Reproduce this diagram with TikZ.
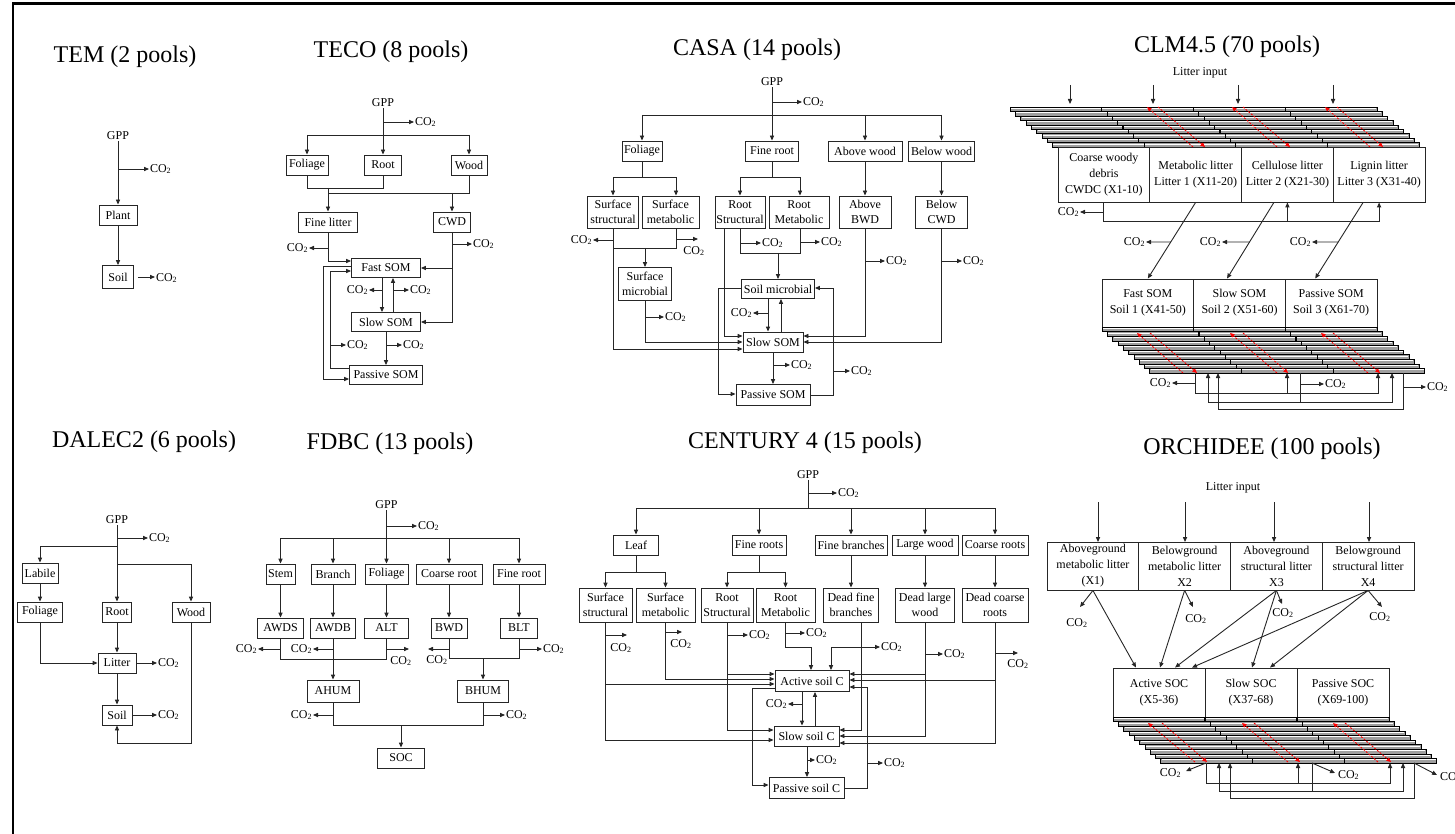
\documentclass[tikz,border=0pt]{standalone}
\usepackage{fontspec}
\setmainfont{Liberation Serif}
\usetikzlibrary{arrows.meta,calc}
\newcommand\bxf{\fontsize{12}{15}\selectfont}
\newcommand\bxl{\fontsize{12}{16}\selectfont}
\newcommand\ttlf{\fontsize{24}{26}\selectfont}
\newcommand\COtwo{CO\textsubscript{2}}
\begin{document}
\begin{tikzpicture}[x=1pt,y=-1pt,
  ln/.style={line width=0.9pt, draw=black!85},
  arr/.style={ln, -{Triangle[length=5pt,width=4.2pt]}},
  box/.style={draw=black!85, line width=0.9pt, fill=white, inner sep=1pt, align=center, font=\bxf},
  bigbox/.style={box, font=\bxl},
  lbl/.style={inner sep=0.8pt, font=\bxf},
  ttl/.style={inner sep=0pt, font=\ttlf},
  stk/.style={fill=gray!75, draw=black, line width=0.5pt},
  wln/.style={draw=white, line width=0.6pt},
  tck/.style={draw=black, line width=1.1pt},
  rda/.style={draw=red, line width=0.9pt, dash pattern=on 2pt off 1.5pt, -{Triangle[length=4.5pt,width=4pt]}},
]
\useasboundingbox (0,0) rectangle (1455,834);
\draw[line width=2.4pt] (13,840) -- (13,3.5) -- (1460,3.5);

% ================= TEM =================
\node[ttl] (tem-t) at (125,57) {TEM (2 pools)};
\node[lbl] (tem-gpp) at (118,136) {GPP};
\node[box,minimum width=38,minimum height=20] (tem-pl) at (118,215) {Plant};
\node[box,minimum width=31,minimum height=23] (tem-so) at (118,277) {Soil};
\node[lbl,anchor=west] (tem-c1) at (149,169) {\COtwo};
\node[lbl,anchor=west] (tem-c2) at (155,278) {\COtwo};
\draw[arr] (tem-gpp) -- (tem-pl);
\draw[arr] (tem-gpp.south |- tem-c1.west) -- (tem-c1.west);
\draw[arr] (tem-pl) -- (tem-so);
\draw[arr] ([xshift=4pt]tem-so.east) -- (tem-c2.west |- tem-so.east);

% ================= TECO =================
\node[ttl] (teco-t) at (391,52) {TECO (8 pools)};
\node[lbl] (teco-gpp) at (383,103) {GPP};
\node[lbl,anchor=west] (teco-c0) at (414,122) {\COtwo};
\node[box,minimum width=42,minimum height=20] (teco-fo) at (307,165) {Foliage};
\node[box,minimum width=37,minimum height=20] (teco-ro) at (383,165) {Root};
\node[box,minimum width=36,minimum height=20] (teco-wo) at (469,165) {Wood};
\node[box,minimum width=59,minimum height=20] (teco-fl) at (328,222) {Fine litter};
\node[box,minimum width=37,minimum height=20] (teco-cw) at (452,222) {CWD};
\node[box,minimum width=69,minimum height=19] (teco-fs) at (386,268) {Fast SOM};
\node[box,minimum width=69,minimum height=19] (teco-ss) at (386,322) {Slow SOM};
\node[box,minimum width=73,minimum height=19] (teco-ps) at (386,375) {Passive SOM};
\node[lbl,anchor=east] (teco-c1) at (309,248) {\COtwo};
\node[lbl,anchor=west] (teco-c2) at (472,244) {\COtwo};
\node[lbl,anchor=east] (teco-c3) at (369,290) {\COtwo};
\node[lbl,anchor=west] (teco-c4) at (409,290) {\COtwo};
\node[lbl,anchor=west] (teco-c5) at (402,345) {\COtwo};
\node[lbl,anchor=west] (teco-c6) at (346,345) {\COtwo};
\draw[arr] (teco-gpp) -- (teco-ro);
\draw[arr] (teco-gpp.south |- teco-c0.west) -- (teco-c0.west);
\draw[ln] (teco-fo.north |- 0,135) -- (teco-wo.north |- 0,135);
\draw[arr] (teco-fo.north |- 0,135) -- (teco-fo.north);
\draw[arr] (teco-wo.north |- 0,135) -- (teco-wo.north);
\draw[ln] (teco-fo.south) |- (teco-ro.south |- 0,188) -- (teco-ro.south);
\draw[ln] (teco-wo.south) |- (teco-fl.north |- 0,193);
\draw[arr] (teco-fl.north |- 0,188) -- (teco-fl.north);
\draw[arr] (teco-cw.north |- 0,193) -- (teco-cw.north);
\draw[arr] (teco-fl.south) |- (teco-fs.west |- 0,261);
\draw[arr] (teco-fl.south |- teco-c1.east) -- (teco-c1.east);
\draw[arr] (teco-cw.south) |- (teco-ss.east);
\draw[arr] (teco-cw.south |- teco-fs.east) -- (teco-fs.east);
\draw[arr] (teco-cw.south |- teco-c2.west) -- (teco-c2.west);
\draw[arr] (382,0 |- teco-fs.south) -- (382,0 |- teco-ss.north);
\draw[arr] (382,0 |- teco-c3.east) -- (teco-c3.east);
\draw[arr] (393,0 |- teco-ss.north) -- (393,0 |- teco-fs.south);
\draw[arr] (393,0 |- teco-c4.west) -- (teco-c4.west);
\draw[arr] (teco-ss) -- (teco-ps);
\draw[arr] (386,0 |- teco-c5.west) -- (teco-c5.west);
\draw[arr] (teco-ps.west |- 0,368) -| (330,271) -- (teco-fs.west |- 0,271);
\draw[arr] (330,0 |- teco-c6.west) -- (teco-c6.west);
\draw[arr] (teco-fs.west |- 0,266) -| (323,379) -- (teco-ps.west |- 0,379);

% ================= CASA =================
\node[ttl] (casa-t) at (757,50) {CASA (14 pools)};
\node[lbl] (casa-gpp) at (772,82) {GPP};
\node[lbl,anchor=west] (casa-c0) at (802,102) {\COtwo};
\node[box,minimum width=40,minimum height=20] (casa-fo) at (642,151) {Foliage};
\node[box,minimum width=53,minimum height=20] (casa-fr) at (772,151) {Fine root};
\node[box,minimum width=74,minimum height=20] (casa-aw) at (865,151) {Above wood};
\node[box,minimum width=66,minimum height=20] (casa-bw) at (941.5,151) {Below wood};
\node[box,minimum width=51,minimum height=32] (casa-sst) at (613,212) {Surface\\structural};
\node[box,minimum width=57,minimum height=32] (casa-smt) at (670.5,212) {Surface\\metabolic};
\node[box,minimum width=50,minimum height=32] (casa-rst) at (740,212) {Root\\Structural};
\node[box,minimum width=60,minimum height=32] (casa-rmt) at (799,212) {Root\\Metabolic};
\node[box,minimum width=52,minimum height=32] (casa-abw) at (865,212) {Above\\BWD};
\node[box,minimum width=52,minimum height=32] (casa-bcw) at (941.5,212) {Below\\CWD};
\node[box,minimum width=53,minimum height=33] (casa-smi) at (645,284) {Surface\\microbial};
\node[box,minimum width=73,minimum height=19] (casa-sm) at (778,289) {Soil microbial};
\node[box,minimum width=60,minimum height=20] (casa-sl) at (773,342) {Slow SOM};
\node[box,minimum width=74,minimum height=21] (casa-ps) at (773,395) {Passive SOM};
\draw[arr] (casa-gpp) -- (casa-fr);
\draw[arr] (casa-gpp.south |- casa-c0.west) -- (casa-c0.west);
\draw[ln] (casa-fo.north |- 0,115) -- (casa-bw.north |- 0,115);
\foreach \n in {fo,aw,bw} \draw[arr] (casa-\n.north |- 0,115) -- (casa-\n.north);
\draw[arr] (casa-fo.south) |- (casa-sst.north |- 0,177) -- (casa-sst.north);
\draw[arr] (casa-fo.south) |- (676,177) -- (676,0 |- casa-smt.north);
\draw[arr] (casa-fr.south) |- (casa-rst.north |- 0,177) -- (casa-rst.north);
\draw[arr] (casa-fr.south) |- (800,177) -- (800,0 |- casa-rmt.north);
\draw[arr] (casa-aw) -- (casa-abw);
\draw[arr] (casa-bw) -- (casa-bcw);
\node[lbl,anchor=east] (casa-c1) at (593,240) {\COtwo};
\draw[arr] (casa-sst.south |- casa-c1.east) -- (casa-c1.east);
\draw[arr] (casa-sst.south) |- (casa-sl.west |- 0,349);
\coordinate (casa-c2a) at (698,239);
\node[lbl] (casa-c2) at (694,251) {\COtwo};
\draw[arr] (676,0 |- casa-smt.south) |- (casa-c2a);
\draw[ln] (casa-sst.south) |- (676,248) -- (676,0 |- casa-smt.south);
\draw[arr] (casa-smi.north |- 0,248) -- (casa-smi.north);
\draw[arr] (casa-smi.south) |- (casa-sl.west |- 0,342);
\node[lbl,anchor=west] (casa-c3) at (664,317) {\COtwo};
\draw[arr] (casa-smi.south |- casa-c3.west) -- (casa-c3.west);
\draw[arr] (724,0 |- casa-rst.south) |- (casa-sl.west |- 0,336);
\node[lbl,anchor=west] (casa-c4) at (761,243) {\COtwo};
\draw[arr] (casa-rst.south |- casa-c4.west) -- (casa-c4.west);
\draw[ln] (casa-rst.south) |- (800,253) -- (800,0 |- casa-rmt.south);
\node[lbl,anchor=west] (casa-c5) at (820,242) {\COtwo};
\draw[arr] (800,0 |- casa-c5.west) -- (casa-c5.west);
\draw[arr] (casa-sm.north |- 0,253) -- (casa-sm.north);
\draw[arr] (768,0 |- casa-sm.south) -- (768,0 |- casa-sl.north);
\node[lbl,anchor=east] (casa-c6) at (753,313) {\COtwo};
\draw[arr] (768,0 |- casa-c6.east) -- (casa-c6.east);
\draw[arr] (781,0 |- casa-sl.north) -- (781,0 |- casa-sm.south);
\draw[arr] (casa-sl) -- (casa-ps);
\node[lbl,anchor=west] (casa-c7) at (790,365) {\COtwo};
\draw[arr] (casa-sl.south |- casa-c7.west) -- (casa-c7.west);
\draw[arr] (casa-ps.east) -| (833,288) -- (casa-sm.east |- 0,288);
\node[lbl,anchor=west] (casa-c8) at (850,371) {\COtwo};
\draw[arr] (833,0 |- casa-c8.west) -- (casa-c8.west);
\draw[arr] (casa-sm.west |- 0,288) -| (718,394) -- (casa-ps.west |- 0,394);
\draw[arr] (casa-abw.south) |- (casa-sl.east |- 0,336);
\node[lbl,anchor=west] (casa-c9) at (885,261) {\COtwo};
\draw[arr] (casa-abw.south |- casa-c9.west) -- (casa-c9.west);
\draw[arr] (casa-bcw.south) |- (casa-sl.east |- 0,342);
\node[lbl,anchor=west] (casa-c10) at (962,261) {\COtwo};
\draw[arr] (casa-bcw.south |- casa-c10.west) -- (casa-c10.west);

% ================= CLM4.5 =================
\node[ttl] (clm-t) at (1227,47) {CLM4.5 (70 pools)};
\node[lbl,font=\bxl] (clm-in) at (1200,73) {Litter input};
\foreach \xx/\i in {1070/1,1153/2,1238/3,1333/4}{
  \coordinate (clm-a\i) at (\xx,85);
  \coordinate (clm-b\i) at (\xx,104);
  \draw[arr] (clm-a\i) -- (clm-b\i);
}
\foreach \k in {0,...,8}{
  \draw[stk] (1010+5.3*\k,107+4.45*\k) rectangle ++(367,4.45);
  \draw[wln] (1011+5.3*\k,108.3+4.45*\k) -- ++(365,0);
  \foreach \j in {1,2,3} \draw[tck] (1010+5.3*\k+91.75*\j,107+4.45*\k) -- ++(0,4.45);
}
\draw[rda] (1193,147) -- (1147,107);
\draw[rda] (1158,107) -- (1205,147);
\draw[rda] (1277,147) -- (1232,107);
\draw[rda] (1243,107) -- (1290,147);
\draw[rda] (1370,147) -- (1325,107);
\draw[rda] (1337,107) -- (1383,147);
\node[bigbox,minimum width=91.75,minimum height=55] (clm-l0) at (1103.9,174.5) {Coarse woody\\debris\\CWDC (X1-10)};
\node[bigbox,minimum width=91.75,minimum height=55] (clm-l1) at (1195.6,174.5) {Metabolic litter\\Litter 1 (X11-20)};
\node[bigbox,minimum width=91.75,minimum height=55] (clm-l2) at (1287.4,174.5) {Cellulose litter\\Litter 2 (X21-30)};
\node[bigbox,minimum width=91.75,minimum height=55] (clm-l3) at (1379.1,174.5) {Lignin litter\\Litter 3 (X31-40)};
\node[lbl,anchor=east] (clm-c0) at (1080,212) {\COtwo};
\draw[arr] (clm-l0.south |- clm-c0.east) -- (clm-c0.east);
\draw[arr] (clm-l0.south) |- (clm-l2.south |- 0,221) -- (clm-l2.south);
\draw[arr] (clm-l0.south) |- (clm-l3.south |- 0,221) -- (clm-l3.south);
\node[bigbox,minimum width=91.7,minimum height=48] (clm-s1) at (1147.8,303) {Fast SOM\\Soil 1 (X41-50)};
\node[bigbox,minimum width=91.7,minimum height=48] (clm-s2) at (1239.5,303) {Slow SOM\\Soil 2 (X51-60)};
\node[bigbox,minimum width=91.7,minimum height=48] (clm-s3) at (1331.2,303) {Passive SOM\\Soil 3 (X61-70)};
\draw[arr] (clm-l1.south) -- (clm-s1.north);
\draw[arr] ([xshift=-13.5pt]clm-l2.south) -- ([xshift=-12.5pt]clm-s2.north);
\draw[arr] ([xshift=-16pt]clm-l3.south) -- ([xshift=-16pt]clm-s3.north);
\path (clm-l1.south) -- (clm-s1.north) coordinate[pos=0.52] (clm-d1);
\path ([xshift=-13.5pt]clm-l2.south) -- ([xshift=-12.5pt]clm-s2.north) coordinate[pos=0.52] (clm-d2);
\path ([xshift=-16pt]clm-l3.south) -- ([xshift=-16pt]clm-s3.north) coordinate[pos=0.52] (clm-d3);
\node[lbl,anchor=east] (clm-c1) at (1146,242) {\COtwo};
\node[lbl,anchor=east] (clm-c2) at (1222,242) {\COtwo};
\node[lbl,anchor=east] (clm-c3) at (1312,242) {\COtwo};
\draw[arr] (clm-d1) -- (clm-c1.east);
\draw[arr] (clm-d2) -- (clm-c2.east);
\draw[arr] (clm-d3) -- (clm-c3.east);
\foreach \k in {0,...,9}{
  \draw[stk] (1102+5.3*\k,327+4.6*\k) rectangle ++(275,4.6);
  \draw[wln] (1103+5.3*\k,328.3+4.6*\k) -- ++(273,0);
  \foreach \j in {1,2} \draw[tck] (1102+5.3*\k+91.7*\j,327+4.6*\k) -- ++(0,4.6);
}
\draw[rda] (1183,373) -- (1137,333);
\draw[rda] (1150,333) -- (1197,373);
\draw[rda] (1277,373) -- (1230,333);
\draw[rda] (1243,333) -- (1288,373);
\draw[rda] (1368,373) -- (1321,333);
\draw[rda] (1333,333) -- (1380,373);
\coordinate (clm-sb) at (0,373);
\node[lbl,anchor=east] (clm-c4) at (1172,383) {\COtwo};
\draw[arr] (1195,0 |- clm-sb) |- (1287,393) -- (1287,0 |- clm-sb);
\draw[arr] (1195,0 |- clm-sb) |- (1378,393) -- (1378,0 |- clm-sb);
\draw[arr] (1195,0 |- clm-c4.east) -- (clm-c4.east);
\draw[arr] (1300,0 |- clm-sb) |- (1208,402) -- (1208,0 |- clm-sb);
\draw[arr] (1300,0 |- clm-sb) |- (1392,402) -- (1392,0 |- clm-sb);
\node[lbl,anchor=west] (clm-c5) at (1324,384) {\COtwo};
\draw[arr] (1300,0 |- clm-c5.west) -- (clm-c5.west);
\draw[arr] (1403,0 |- clm-sb) |- (1218,409) -- (1218,0 |- clm-sb);
\node[lbl,anchor=west] (clm-c6) at (1426,387) {\COtwo};
\draw[arr] (1403,0 |- clm-c6.west) -- (clm-c6.west);

% ================= DALEC2 =================
\node[ttl] (dal-t) at (144,442) {DALEC2 (6 pools)};
\node[lbl] (dal-gpp) at (117,520) {GPP};
\node[lbl,anchor=west] (dal-c0) at (148,538) {\COtwo};
\node[box,minimum width=36,minimum height=20] (dal-lab) at (40,573) {Labile};
\node[box,minimum width=45,minimum height=20] (dal-fol) at (40,612) {Foliage};
\node[box,minimum width=29,minimum height=20] (dal-root) at (117,612) {Root};
\node[box,minimum width=38,minimum height=20] (dal-wood) at (191,612) {Wood};
\node[box,minimum width=38,minimum height=20] (dal-lit) at (117,663) {Litter};
\node[box,minimum width=30,minimum height=20] (dal-soil) at (117,715) {Soil};
\node[lbl,anchor=west] (dal-c1) at (157,663) {\COtwo};
\node[lbl,anchor=west] (dal-c2) at (157,715) {\COtwo};
\draw[arr] (dal-gpp) -- (dal-root);
\draw[arr] (dal-gpp.south |- dal-c0.west) -- (dal-c0.west);
\draw[arr] (dal-gpp.south |- 0,546) -| (dal-lab.north);
\draw[arr] (dal-gpp.south |- 0,564) -| (dal-wood.north);
\draw[arr] (dal-lab) -- (dal-fol);
\draw[arr] (dal-fol.south) |- (dal-lit.west);
\draw[arr] (dal-root) -- (dal-lit);
\draw[arr] (dal-lit) -- (dal-soil);
\draw[arr] (dal-lit.east) -- (dal-c1.west);
\draw[arr] (dal-soil.east) -- (dal-c2.west);
\draw[arr] (dal-wood.south) |- (dal-soil.south |- 0,743) -- (dal-soil.south);

% ================= FDBC =================
\node[ttl] (fd-t) at (390,444) {FDBC (13 pools)};
\node[lbl] (fd-gpp) at (386.5,505) {GPP};
\node[lbl,anchor=west] (fd-c0) at (417,526) {\COtwo};
\node[box,minimum width=29,minimum height=20] (fd-stem) at (280.5,574) {Stem};
\node[box,minimum width=44,minimum height=20] (fd-br) at (333,574) {Branch};
\node[box,minimum width=43,minimum height=20] (fd-fo) at (386.5,574) {Foliage};
\node[box,minimum width=66,minimum height=20] (fd-cr) at (449,574) {Coarse root};
\node[box,minimum width=52,minimum height=20] (fd-fr) at (519,574) {Fine root};
\node[box,minimum width=46,minimum height=20] (fd-awds) at (280.5,628) {AWDS};
\node[box,minimum width=45,minimum height=20] (fd-awdb) at (333,628) {AWDB};
\node[box,minimum width=44,minimum height=20] (fd-alt) at (386.5,628) {ALT};
\node[box,minimum width=36,minimum height=20] (fd-bwd) at (449,628) {BWD};
\node[box,minimum width=37,minimum height=20] (fd-blt) at (519,628) {BLT};
\node[box,minimum width=52,minimum height=22] (fd-ahum) at (333,691) {AHUM};
\node[box,minimum width=51,minimum height=22] (fd-bhum) at (483,691) {BHUM};
\node[box,minimum width=47,minimum height=20] (fd-soc) at (401,758) {SOC};
\draw[arr] (fd-gpp) -- (fd-fo);
\draw[arr] (fd-gpp.south |- fd-c0.west) -- (fd-c0.west);
\draw[ln] (fd-stem.north |- 0,538) -- (fd-fr.north |- 0,538);
\foreach \n in {stem,br,cr,fr} \draw[arr] (fd-\n.north |- 0,538) -- (fd-\n.north);
\draw[arr] (fd-stem) -- (fd-awds);
\draw[arr] (fd-br) -- (fd-awdb);
\draw[arr] (fd-fo) -- (fd-alt);
\draw[arr] (fd-cr) -- (fd-bwd);
\draw[arr] (fd-fr) -- (fd-blt);
\draw[ln] (fd-awds.south) |- (fd-alt.south |- 0,659) -- (fd-alt.south);
\node[lbl,anchor=east] (fd-c1) at (258,649) {\COtwo};
\draw[arr] (fd-awds.south |- fd-c1.east) -- (fd-c1.east);
\node[lbl,anchor=east] (fd-c2) at (313,649) {\COtwo};
\draw[arr] (fd-awdb.south |- fd-c2.east) -- (fd-c2.east);
\coordinate (fd-e3) at (409,649);
\node[lbl] (fd-c3) at (401,661) {\COtwo};
\draw[arr] (fd-alt.south |- fd-e3) -- (fd-e3);
\draw[arr] (fd-awdb) -- (fd-ahum);
\draw[ln] (fd-bwd.south) |- (fd-blt.south |- 0,658) -- (fd-blt.south);
\coordinate (fd-e4) at (428,649);
\node[lbl] (fd-c4) at (437,660) {\COtwo};
\draw[arr] (fd-bwd.south |- fd-e4) -- (fd-e4);
\node[lbl,anchor=west] (fd-c5) at (542,649) {\COtwo};
\draw[arr] (fd-blt.south |- fd-c5.west) -- (fd-c5.west);
\draw[arr] (fd-bhum.north |- 0,658) -- (fd-bhum.north);
\draw[ln] (fd-ahum.south) |- (fd-bhum.south |- 0,725) -- (fd-bhum.south);
\draw[arr] (fd-soc.north |- 0,725) -- (fd-soc.north);
\node[lbl,anchor=east] (fd-c6) at (313,715) {\COtwo};
\draw[arr] (fd-ahum.south |- fd-c6.east) -- (fd-c6.east);
\node[lbl,anchor=west] (fd-c7) at (505,715) {\COtwo};
\draw[arr] (fd-bhum.south |- fd-c7.west) -- (fd-c7.west);

% ================= CENTURY 4 =================
\node[ttl] (cen-t) at (805,443) {CENTURY 4 (15 pools)};
\node[lbl] (cen-gpp) at (808,475) {GPP};
\node[lbl,anchor=west] (cen-c0) at (837,493) {\COtwo};
\node[box,minimum width=45,minimum height=20] (cen-le) at (636,545) {Leaf};
\node[box,minimum width=54,minimum height=20] (cen-fr) at (759,545) {Fine roots};
\node[box,minimum width=72,minimum height=20] (cen-fb) at (851,545) {Fine branches};
\node[box,minimum width=66,minimum height=20] (cen-lw) at (925,545) {Large wood};
\node[box,minimum width=66,minimum height=20] (cen-cr) at (995,545) {Coarse roots};
\node[box,minimum width=53,minimum height=34] (cen-sst) at (605.5,605) {Surface\\structural};
\node[box,minimum width=59,minimum height=34] (cen-smt) at (665.5,605) {Surface\\metabolic};
\node[box,minimum width=52,minimum height=34] (cen-rst) at (727,605) {Root\\Structural};
\node[box,minimum width=59,minimum height=34] (cen-rmt) at (785.5,605) {Root\\Metabolic};
\node[box,minimum width=55,minimum height=34] (cen-dfb) at (851,605) {Dead fine\\branches};
\node[box,minimum width=59,minimum height=34] (cen-dlw) at (925,605) {Dead large\\wood};
\node[box,minimum width=66,minimum height=34] (cen-dcr) at (995,605) {Dead coarse\\roots};
\node[box,minimum width=74,minimum height=21] (cen-ac) at (812,681) {Active soil C};
\node[box,minimum width=65,minimum height=20] (cen-sc) at (806.5,736) {Slow soil C};
\node[box,minimum width=75,minimum height=21] (cen-pc) at (806.5,788) {Passive soil C};
\draw[ln] (cen-gpp.south) -- (cen-gpp.south |- 0,508);
\draw[ln] (cen-le.north |- 0,508) -- (cen-cr.north |- 0,508);
\foreach \n in {le,fr,fb,lw,cr} \draw[arr] (cen-\n.north |- 0,508) -- (cen-\n.north);
\draw[arr] (cen-gpp.south |- cen-c0.west) -- (cen-c0.west);
\draw[arr] (cen-le.south) |- (cen-sst.north |- 0,572) -- (cen-sst.north);
\draw[arr] (cen-le.south) |- (cen-smt.north |- 0,572) -- (cen-smt.north);
\draw[arr] (cen-fr.south) |- (cen-rst.north |- 0,572) -- (cen-rst.north);
\draw[arr] (cen-fr.south) |- (cen-rmt.north |- 0,572) -- (cen-rmt.north);
\draw[arr] (cen-fb) -- (cen-dfb);
\draw[arr] (cen-lw) -- (cen-dlw);
\draw[arr] (cen-cr) -- (cen-dcr);
\coordinate (cen-e1) at (627,635);
\node[lbl] (cen-c1) at (621,648) {\COtwo};
\draw[arr] (cen-sst.south) |- (cen-e1);
\draw[arr] (cen-sst.south) |- (cen-ac.west |- 0,684);
\draw[arr] (cen-sst.south) |- (cen-sc.west |- 0,740);
\coordinate (cen-e2) at (682,632);
\node[lbl] (cen-c2) at (681,644) {\COtwo};
\draw[arr] (cen-smt.south) |- (cen-e2);
\draw[arr] (cen-smt.south) |- (cen-ac.west |- 0,679);
\node[lbl,anchor=west] (cen-c3) at (748,635) {\COtwo};
\draw[arr] (cen-rst.south) |- (cen-c3.west);
\draw[arr] (cen-rst.south) |- (cen-ac.west |- 0,674);
\draw[arr] (cen-rst.south) |- (cen-sc.west |- 0,730);
\node[lbl,anchor=west] (cen-c4) at (805,633) {\COtwo};
\draw[arr] (cen-rmt.south) |- (cen-c4.west);
\draw[arr] (cen-rmt.south) |- (811,647) -- (811,0 |- cen-ac.north);
\draw[arr] (861,0 |- cen-dfb.south) |- (cen-sc.east |- 0,730);
\node[lbl,anchor=west] (cen-c5) at (880,647) {\COtwo};
\draw[arr] (861,0 |- cen-c5.west) -- (cen-c5.west);
\draw[arr] (861,0 |- cen-c5.west) -| (831,0 |- cen-ac.north);
\draw[arr] (cen-dlw.south) |- (cen-sc.east |- 0,736);
\draw[arr] (cen-dlw.south) |- (cen-ac.east |- 0,674);
\node[lbl,anchor=west] (cen-c6) at (943,654) {\COtwo};
\draw[arr] (cen-dlw.south |- cen-c6.west) -- (cen-c6.west);
\draw[arr] (cen-dcr.south) |- (cen-sc.east |- 0,743);
\draw[arr] (cen-dcr.south) |- (cen-ac.east |- 0,680);
\coordinate (cen-e7) at (1018,653);
\node[lbl] (cen-c7) at (1018,664) {\COtwo};
\draw[arr] (cen-dcr.south |- cen-e7) -- (cen-e7);
\draw[arr] (802,0 |- cen-ac.south) -- (802,0 |- cen-sc.north);
\node[lbl,anchor=east] (cen-c8) at (788,704) {\COtwo};
\draw[arr] (802,0 |- cen-c8.east) -- (cen-c8.east);
\draw[arr] (815,0 |- cen-sc.north) -- (815,0 |- cen-ac.south);
\draw[arr] (807,0 |- cen-sc.south) -- (807,0 |- cen-pc.north);
\node[lbl,anchor=west] (cen-c9) at (815,760) {\COtwo};
\draw[arr] (807,0 |- cen-c9.west) -- (cen-c9.west);
\draw[arr] (cen-pc.east) -| (867,687) -- (cen-ac.east |- 0,687);
\node[lbl,anchor=west] (cen-c10) at (883,763) {\COtwo};
\draw[arr] (867,0 |- cen-c10.west) -- (cen-c10.west);
\draw[arr] (cen-ac.west |- 0,688) -| (752,785) -- (cen-pc.west |- 0,785);

% ================= ORCHIDEE =================
\node[ttl] (orc-t) at (1262,449) {ORCHIDEE (100 pools)};
\node[lbl,font=\bxl] (orc-in) at (1233,488) {Litter input};
\foreach \xx/\i in {1098/1,1185/2,1274/3,1369/4}{
  \coordinate (orc-a\i) at (\xx,502);
  \coordinate (orc-b\i) at (\xx,542);
  \draw[arr] (orc-a\i) -- (orc-b\i);
}
\node[bigbox,minimum width=91.75,minimum height=48] (orc-l1) at (1092.9,566) {Aboveground\\metabolic litter\\(X1)};
\node[bigbox,minimum width=91.75,minimum height=48] (orc-l2) at (1184.6,566) {Belowground\\metabolic litter\\X2};
\node[bigbox,minimum width=91.75,minimum height=48] (orc-l3) at (1276.4,566) {Aboveground\\structural litter\\X3};
\node[bigbox,minimum width=91.75,minimum height=48] (orc-l4) at (1368.1,566) {Belowground\\structural litter\\X4};
\coordinate (orc-e1) at (1080,607);
\coordinate (orc-e2) at (1193,607);
\coordinate (orc-e3) at (1282,604);
\coordinate (orc-e4) at (1382,607);
\node[lbl] (orc-c1) at (1077,623) {\COtwo};
\node[lbl] (orc-c2) at (1196,619) {\COtwo};
\node[lbl] (orc-c3) at (1283,613) {\COtwo};
\node[lbl] (orc-c4) at (1380,617) {\COtwo};
\draw[arr] (orc-l1.south) -- (orc-e1);
\draw[arr] (orc-l2.south) -- (orc-e2);
\draw[arr] (orc-l3.south) -- (orc-e3);
\draw[arr] (orc-l4.south) -- (orc-e4);
\node[bigbox,minimum width=92,minimum height=49] (orc-s1) at (1159,692.5) {Active SOC\\(X5-36)};
\node[bigbox,minimum width=92,minimum height=49] (orc-s2) at (1251,692.5) {Slow SOC\\(X37-68)};
\node[bigbox,minimum width=92,minimum height=49] (orc-s3) at (1343,692.5) {Passive SOC\\(X69-100)};
\draw[arr] (orc-l1.south) -- ([xshift=-23pt]orc-s1.north);
\draw[arr] (orc-l2.south) -- ([xshift=1pt]orc-s1.north);
\draw[arr] (orc-l3.south) -- ([xshift=16pt]orc-s1.north);
\draw[arr] (orc-l4.south) -- ([xshift=33pt]orc-s1.north);
\draw[arr] (orc-l3.south) -- ([xshift=1pt]orc-s2.north);
\draw[arr] (orc-l4.south) -- ([xshift=19pt]orc-s2.north);
\foreach \k in {0,...,9}{
  \draw[stk] (1113+5.3*\k,717+4.6*\k) rectangle ++(276,4.6);
  \draw[wln] (1114+5.3*\k,718.3+4.6*\k) -- ++(274,0);
  \foreach \j in {1,2} \draw[tck] (1113+5.3*\k+92*\j,717+4.6*\k) -- ++(0,4.6);
}
\draw[rda] (1195,762) -- (1148,723);
\draw[rda] (1162,723) -- (1207,762);
\draw[rda] (1288,762) -- (1242,723);
\draw[rda] (1254,723) -- (1300,762);
\draw[rda] (1378,762) -- (1333,723);
\draw[rda] (1345,723) -- (1391,762);
\coordinate (orc-sb) at (0,763);
\draw[arr] (1206,0 |- orc-sb) |- (1298,783) -- (1298,0 |- orc-sb);
\draw[arr] (1206,0 |- orc-sb) |- (1390,783) -- (1390,0 |- orc-sb);
\coordinate (orc-e5) at (1186,771);
\node[lbl,anchor=east] (orc-c5) at (1182,773) {\COtwo};
\draw[arr] (1206,0 |- orc-sb) -- (orc-e5);
\draw[arr] (1312,0 |- orc-sb) |- (1219,791) -- (1219,0 |- orc-sb);
\draw[arr] (1312,0 |- orc-sb) |- (1403,791) -- (1403,0 |- orc-sb);
\coordinate (orc-e6) at (1335,773);
\node[lbl,anchor=west] (orc-c6) at (1337,775) {\COtwo};
\draw[arr] (1312,0 |- orc-sb) -- (orc-e6);
\draw[arr] (1414,0 |- orc-sb) |- (1230,798) -- (1230,0 |- orc-sb);
\coordinate (orc-e7) at (1437,775);
\node[lbl,anchor=west] (orc-c7) at (1439,777) {\COtwo};
\draw[arr] (1414,0 |- orc-sb) -- (orc-e7);
\end{tikzpicture}
\end{document}
